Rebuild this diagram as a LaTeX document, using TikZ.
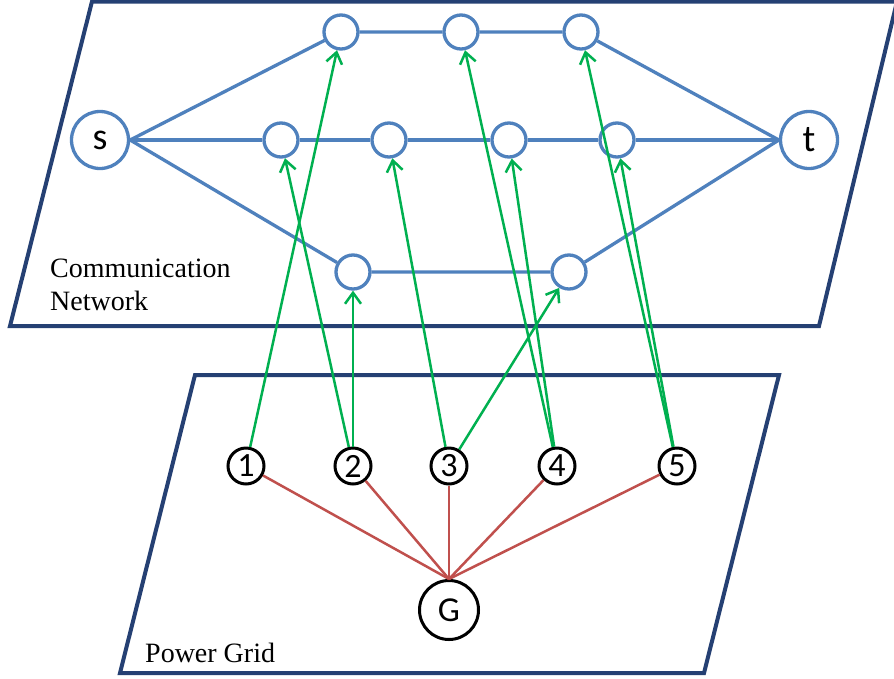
\documentclass[tikz,border=0pt]{standalone}
\usepackage{fontspec}
\setmainfont{Liberation Serif}
\newfontfamily\calib{Carlito}
\usetikzlibrary{arrows.meta}
\definecolor{frameblue}{RGB}{37,64,115}
\definecolor{netblue}{RGB}{79,129,189}
\definecolor{linkgreen}{RGB}{0,176,80}
\definecolor{gridred}{RGB}{192,80,77}
\begin{document}
\begin{tikzpicture}[x=1pt,y=-1pt,
  frame/.style={draw=frameblue, line width=4pt, line join=miter},
  cnode/.style={circle, draw=netblue, line width=3.3pt, minimum size=34pt, inner sep=0pt},
  bignode/.style={cnode, minimum size=57pt, font=\calib\fontsize{38}{38}\selectfont},
  pnode/.style={circle, draw=black, line width=3pt, minimum size=36pt, inner sep=0pt, font=\calib\fontsize{34}{34}\selectfont},
  gnode/.style={pnode, minimum size=59pt, font=\calib\fontsize{35}{35}\selectfont},
  netedge/.style={draw=netblue, line width=3.3pt},
  dep/.style={draw=linkgreen, line width=2.5pt, -{Straight Barb[length=11pt,width=16pt,line width=2.5pt]}},
  pedge/.style={draw=gridred, line width=2.5pt},
  lbl/.style={font=\fontsize{28}{28}\selectfont, anchor=base west, inner sep=0pt}]
\useasboundingbox (0,0) rectangle (894,678);
\fill[white] (0,0) rectangle (894,678);
% layers
\draw[frame] (92,1.5) -- (897,1.5) -- (819,326) -- (10,326) -- cycle;
\draw[frame] (195,375) -- (779,375) -- (704,673) -- (120,673) -- cycle;
% communication network
\node[bignode] (s) at (100,140) {s};
\node[bignode] (t) at (809,140) {t};
\node[cnode] (A1) at (341,32) {};
\node[cnode] (A2) at (461,32) {};
\node[cnode] (A3) at (581,32) {};
\node[cnode] (M1) at (281,140) {};
\node[cnode] (M2) at (389,140) {};
\node[cnode] (M3) at (509,140) {};
\node[cnode] (M4) at (617,140) {};
\node[cnode] (B1) at (353,272) {};
\node[cnode] (B2) at (569,272) {};
\draw[netedge] (s.east) -- (A1) -- (A2) -- (A3) -- (t.west);
\draw[netedge] (s.east) -- (M1) -- (M2) -- (M3) -- (M4) -- (t.west);
\draw[netedge] (s.east) -- (B1) -- (B2) -- (t.west);
\node[lbl] (cn1) at (50,277) {Communication};
\node[lbl] (cn2) at (50,310) {Network};
% power grid
\node[pnode] (p1) at (246,466) {1};
\node[pnode] (p2) at (353,466) {2};
\node[pnode] (p3) at (449,466) {3};
\node[pnode] (p4) at (557,466) {4};
\node[pnode] (p5) at (677,466) {5};
\node[gnode] (G) at (449,610) {G};
\node[lbl] (pg) at (145,662) {Power Grid};
\foreach \p in {p1,p2,p3,p4,p5} \draw[pedge] (\p) -- (G.north);
% interdependencies
\draw[dep] (p1) -- (A1);
\draw[dep] (p2) -- (M1);
\draw[dep] (p2) -- (B1);
\draw[dep] (p3) -- (M2);
\draw[dep] (p3) -- (B2);
\draw[dep] (p4) -- (A2);
\draw[dep] (p4) -- (M3);
\draw[dep] (p5) -- (A3);
\draw[dep] (p5) -- (M4);
\end{tikzpicture}
\end{document}
